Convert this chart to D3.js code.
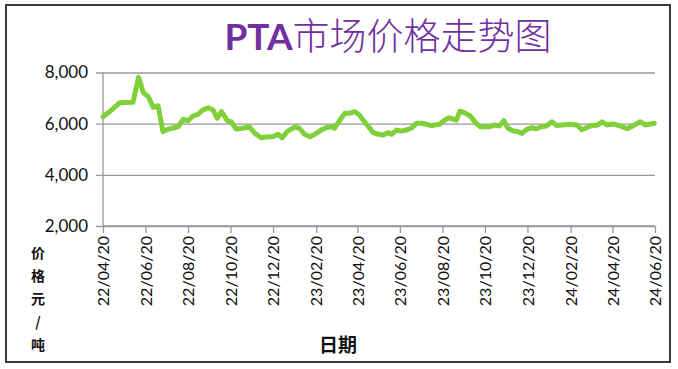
<!DOCTYPE html>
<html>
<head>
<meta charset="utf-8">
<script src="https://cdn.jsdelivr.net/npm/d3@7"></script>
<style>
  body { margin: 0; background: #fff; }
  text { font-family: Lato, "Noto Sans CJK SC", sans-serif; }
</style>
</head>
<body>
<div class="chart"></div>
<script>
// chart data
var dates = [
  "2022-04-20","2022-05-03","2022-05-14","2022-06-02","2022-06-10","2022-06-17","2022-06-24",
  "2022-07-01","2022-07-08","2022-07-15","2022-07-22","2022-08-06","2022-08-13","2022-08-20",
  "2022-08-27","2022-09-03","2022-09-10","2022-09-18","2022-09-25","2022-10-01","2022-10-07",
  "2022-10-16","2022-10-21","2022-10-28","2022-11-07","2022-11-16","2022-11-24","2022-12-03",
  "2022-12-13","2022-12-20","2022-12-27","2023-01-02","2023-01-10","2023-01-20","2023-01-27",
  "2023-02-03","2023-02-11","2023-02-18","2023-02-27","2023-03-06","2023-03-14","2023-03-18",
  "2023-03-26","2023-04-02","2023-04-09","2023-04-16","2023-04-23","2023-04-30","2023-05-08",
  "2023-05-12","2023-05-20","2023-05-27","2023-06-03","2023-06-08","2023-06-15","2023-06-22",
  "2023-06-29","2023-07-06","2023-07-14","2023-07-21","2023-07-28","2023-08-04","2023-08-09",
  "2023-08-16","2023-08-23","2023-08-30","2023-09-04","2023-09-09","2023-09-14","2023-09-21",
  "2023-09-29","2023-10-06","2023-10-13","2023-10-27","2023-11-03","2023-11-10","2023-11-16",
  "2023-11-22","2023-11-29","2023-12-06","2023-12-12","2023-12-19","2023-12-26","2024-01-02",
  "2024-01-09","2024-01-16","2024-01-24","2024-01-31","2024-02-12","2024-02-19","2024-02-29",
  "2024-03-07","2024-03-19","2024-03-30","2024-04-05","2024-04-12","2024-04-21","2024-05-01",
  "2024-05-11","2024-05-19","2024-05-30","2024-06-06","2024-06-19"
];
var prices = [
  6270, 6550, 6820, 6835, 7810, 7210, 7055,
  6640, 6700, 5690, 5780, 5880, 6170, 6115,
  6300, 6365, 6530, 6620, 6530, 6210, 6470,
  6100, 6075, 5790, 5820, 5880, 5620, 5450,
  5490, 5490, 5585, 5450, 5710, 5860, 5820,
  5585, 5490, 5585, 5750, 5840, 5880, 5820,
  6140, 6405, 6405, 6470, 6340, 6075, 5820,
  5660, 5585, 5555, 5650, 5585, 5750, 5710,
  5750, 5820, 6015, 6015, 5975, 5920, 5950,
  5975, 6140, 6230, 6180, 6140, 6490, 6420,
  6300, 6050, 5880, 5880, 5950, 5910, 6115,
  5820, 5725, 5690, 5620, 5780, 5840, 5800,
  5880, 5910, 6075, 5930, 5960, 5975, 5950,
  5760, 5910, 5950, 6075, 5950, 5990, 5910,
  5800, 5910, 6075, 5950, 6015
];
var yTicks = [2000, 4000, 6000, 8000];
var xTickDates = [
  "2022-04-20","2022-06-20","2022-08-20","2022-10-20","2022-12-20","2023-02-20","2023-04-20",
  "2023-06-20","2023-08-20","2023-10-20","2023-12-20","2024-02-20","2024-04-20","2024-06-20"
];
var titleText = "市场价格走势图";
var yTitleChars = ["价", "格", "元", "/", "吨"];
var xTitle = "日期";

var svgWidth = 678;
var svgHeight = 369;

var margin = { top: 72.5, right: 23, bottom: 143, left: 103 };
var width = svgWidth - margin.left - margin.right;
var height = svgHeight - margin.top - margin.bottom;

var parseDate = d3.timeParse("%Y-%m-%d");
var data = dates.map(function(d, i) {
  return { date: parseDate(d), price: prices[i] };
});

var svg = d3.select(".chart")
  .append("svg")
  .attr("width", svgWidth)
  .attr("height", svgHeight);

// outer frame
svg.append("rect")
  .attr("x", 6)
  .attr("y", 5)
  .attr("width", 664)
  .attr("height", 357)
  .attr("fill", "none")
  .attr("stroke", "#3a3a3a")
  .attr("stroke-width", 2);

// title
var title = svg.append("text")
  .attr("x", 388)
  .attr("y", 50)
  .attr("text-anchor", "middle")
  .attr("fill", "#7030a0")
  .style("font-size", "37px");
title.append("tspan")
  .style("font-family", "Lato, sans-serif")
  .style("font-weight", "bold")
  .text("PTA");
title.append("tspan")
  .style("font-family", "'Noto Sans CJK SC', sans-serif")
  .style("font-weight", "300")
  .text(titleText);

var chartGroup = svg.append("g")
  .attr("transform", `translate(${margin.left}, ${margin.top})`);

var xScale = d3.scaleTime()
  .domain([parseDate(xTickDates[0]), parseDate(xTickDates[xTickDates.length - 1])])
  .range([0, width]);

var yScale = d3.scaleLinear()
  .domain([2000, 8000])
  .range([height, 0]);

// horizontal gridlines + y ticks
var leftAxis = d3.axisLeft(yScale)
  .tickValues(yTicks)
  .tickSize(-width)
  .tickPadding(15)
  .tickFormat(d3.format(","));

var yAxis = chartGroup.append("g").call(leftAxis);
yAxis.select(".domain").remove();
yAxis.selectAll(".tick line")
  .attr("x1", -7)
  .attr("stroke", "#989898")
  .attr("stroke-width", 1.3);
yAxis.selectAll(".tick text")
  .attr("fill", "#111")
  .style("font-size", "17px");

// vertical axis line
chartGroup.append("line")
  .attr("x1", 0).attr("x2", 0)
  .attr("y1", 0).attr("y2", height)
  .attr("stroke", "#989898")
  .attr("stroke-width", 1.3);

// x axis
var bottomAxis = d3.axisBottom(xScale)
  .tickValues(xTickDates.map(parseDate))
  .tickSize(7)
  .tickFormat(d3.timeFormat("%y/%m/%d"));

var xAxis = chartGroup.append("g")
  .attr("transform", `translate(0, ${height})`)
  .call(bottomAxis);
xAxis.select(".domain")
  .attr("stroke", "#989898")
  .attr("stroke-width", 1.3)
  .attr("d", `M0,0H${width}`);
xAxis.selectAll(".tick line")
  .attr("stroke", "#989898")
  .attr("stroke-width", 1.3);
xAxis.selectAll(".tick text")
  .attr("transform", "rotate(-90)")
  .attr("text-anchor", "end")
  .attr("x", -10)
  .attr("y", 0)
  .attr("dy", "0.35em")
  .attr("fill", "#111")
  .style("font-size", "16px");

// price line
var line = d3.line()
  .x(d => xScale(d.date))
  .y(d => yScale(d.price));

chartGroup.append("path")
  .datum(data)
  .attr("d", line)
  .attr("fill", "none")
  .attr("stroke", "#7fd03a")
  .attr("stroke-width", 5)
  .attr("stroke-linejoin", "round")
  .attr("stroke-linecap", "round");

// y axis title, stacked characters
svg.append("g")
  .selectAll("text")
  .data(yTitleChars)
  .enter()
  .append("text")
  .attr("x", 38)
  .attr("y", (d, i) => 258 + i * 23)
  .attr("text-anchor", "middle")
  .style("font-family", "'Noto Sans CJK SC', sans-serif")
  .style("font-size", "14px")
  .style("font-weight", "bold")
  .attr("fill", "#111")
  .text(d => d);

// x axis title
svg.append("text")
  .attr("x", 338)
  .attr("y", 352)
  .attr("text-anchor", "middle")
  .style("font-family", "'Noto Sans CJK SC', sans-serif")
  .style("font-size", "19px")
  .style("font-weight", "bold")
  .attr("fill", "#111")
  .text(xTitle);
</script>
</body>
</html>
